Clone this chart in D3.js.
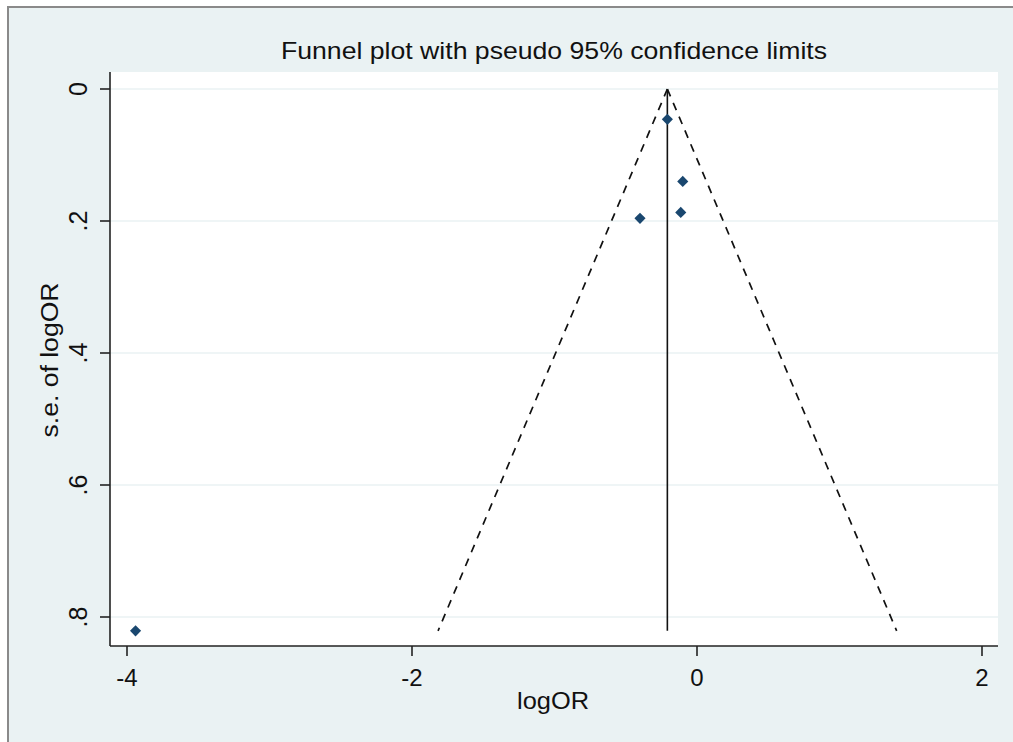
<!DOCTYPE html>
<html>
<head>
<meta charset="utf-8">
<script src="https://cdn.jsdelivr.net/npm/d3@7"></script>
<style>
  html, body { margin: 0; padding: 0; background: #ffffff; }
  svg { display: block; }
  text { font-family: "Liberation Sans", Arial, sans-serif; fill: #111; }
</style>
</head>
<body>
<svg id="chart" width="1013" height="742"></svg>
<script>
// ---- data ----
const logOR = [-0.208, -0.100, -0.114, -0.400, -3.94];
const seLogOR = [0.046, 0.140, 0.187, 0.196, 0.821];
const pooledEstimate = -0.208;
const xTicks = [-4, -2, 0, 2];
const xTickLabels = ["-4", "-2", "0", "2"];
const yTicks = [0, 0.2, 0.4, 0.6, 0.8];
const yTickLabels = ["0", ".2", ".4", ".6", ".8"];
const titleText = "Funnel plot with pseudo 95% confidence limits";
const xTitle = "logOR";
const yTitle = "s.e. of logOR";

// ---- layout ----
const svg = d3.select("#chart");
const plot = { left: 110, right: 998, top: 72, bottom: 646 };
const x = d3.scaleLinear().domain([-4, 2]).range([127, 982]);
const y = d3.scaleLinear().domain([0, 0.8]).range([89, 617]);
const bg = "#eaf2f3";
const navy = "#1a476f";

// outer frame
svg.append("rect").attr("x", 8).attr("y", 7).attr("width", 1100).attr("height", 800)
  .attr("fill", bg).attr("stroke", "#8a8a8a").attr("stroke-width", 2);

// plot region
svg.append("rect").attr("x", plot.left).attr("y", plot.top)
  .attr("width", plot.right - plot.left).attr("height", plot.bottom - plot.top)
  .attr("fill", "#ffffff");

// gridlines
svg.append("g").selectAll("line").data(yTicks).join("line")
  .attr("x1", plot.left).attr("x2", plot.right)
  .attr("y1", d => y(d)).attr("y2", d => y(d))
  .attr("stroke", bg).attr("stroke-width", 1.5);

// funnel
const maxSE = d3.max(seLogOR);
const z = 1.96;
const funnelLeft = [[pooledEstimate, 0], [pooledEstimate - z * maxSE, maxSE]];
const funnelRight = [[pooledEstimate, 0], [pooledEstimate + z * maxSE, maxSE]];
const line = d3.line().x(d => x(d[0])).y(d => y(d[1]));
[funnelLeft, funnelRight].forEach(pts => {
  svg.append("path").attr("d", line(pts)).attr("fill", "none")
    .attr("stroke", "#111").attr("stroke-width", 1.7).attr("stroke-dasharray", "8,7");
});
svg.append("path").attr("d", line([[pooledEstimate, 0], [pooledEstimate, maxSE]]))
  .attr("stroke", "#111").attr("stroke-width", 1.6).attr("fill", "none");

// points
const sym = d3.symbol().type(d3.symbolSquare).size(62);
svg.append("g").selectAll("path").data(logOR.map((v, i) => [v, seLogOR[i]])).join("path")
  .attr("d", sym)
  .attr("transform", d => `translate(${x(d[0])},${y(d[1])}) rotate(45)`)
  .attr("fill", navy);

// axes
const axisColor = "#222";
svg.append("line").attr("x1", plot.left).attr("x2", plot.left)
  .attr("y1", plot.top).attr("y2", plot.bottom).attr("stroke", axisColor).attr("stroke-width", 1.6);
svg.append("line").attr("x1", plot.left).attr("x2", plot.right)
  .attr("y1", plot.bottom).attr("y2", plot.bottom).attr("stroke", axisColor).attr("stroke-width", 1.6);

// x ticks
const xg = svg.append("g");
xg.selectAll("line").data(xTicks).join("line")
  .attr("x1", d => x(d)).attr("x2", d => x(d))
  .attr("y1", plot.bottom).attr("y2", plot.bottom + 10)
  .attr("stroke", axisColor).attr("stroke-width", 1.6);
xg.selectAll("text").data(xTicks).join("text")
  .attr("x", d => x(d)).attr("y", 686)
  .attr("text-anchor", "middle").attr("font-size", 24)
  .text((d, i) => xTickLabels[i]);

// y ticks
const yg = svg.append("g");
yg.selectAll("line").data(yTicks).join("line")
  .attr("x1", plot.left - 10).attr("x2", plot.left)
  .attr("y1", d => y(d)).attr("y2", d => y(d))
  .attr("stroke", axisColor).attr("stroke-width", 1.6);
yg.selectAll("text").data(yTicks).join("text")
  .attr("transform", d => `translate(87,${y(d)}) rotate(-90)`)
  .attr("text-anchor", "middle").attr("font-size", 25)
  .text((d, i) => yTickLabels[i]);

// titles
svg.append("text").attr("x", 554).attr("y", 59).attr("text-anchor", "middle")
  .attr("font-size", 24).attr("textLength", 546).attr("lengthAdjust", "spacingAndGlyphs")
  .text(titleText);
svg.append("text").attr("x", 553).attr("y", 709).attr("text-anchor", "middle")
  .attr("font-size", 24).attr("textLength", 72).attr("lengthAdjust", "spacingAndGlyphs")
  .text(xTitle);
svg.append("text").attr("transform", "translate(58,360) rotate(-90)")
  .attr("text-anchor", "middle").attr("font-size", 23)
  .attr("textLength", 155).attr("lengthAdjust", "spacingAndGlyphs")
  .text(yTitle);
</script>
</body>
</html>
